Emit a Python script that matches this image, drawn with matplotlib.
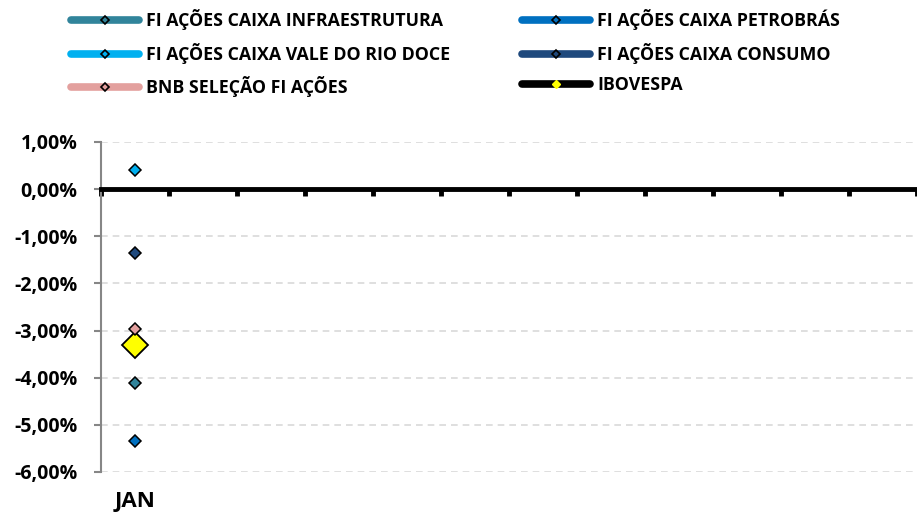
import matplotlib.pyplot as plt
import numpy as np
from matplotlib.lines import Line2D
from matplotlib.ticker import FuncFormatter

plt.rcParams['font.family'] = ['Open Sans', 'DejaVu Sans']
plt.rcParams['font.weight'] = 'bold'

### data ######################################################################
months = ['JAN', '', '', '', '', '', '', '', '', '', '', '']

series_names = ['FI AÇÕES CAIXA INFRAESTRUTURA', 'FI AÇÕES CAIXA PETROBRÁS',
                'FI AÇÕES CAIXA VALE DO RIO DOCE', 'FI AÇÕES CAIXA CONSUMO',
                'BNB SELEÇÃO FI AÇÕES', 'IBOVESPA']
infra = [-4.11]
petro = [-5.34]
vale = [0.40]
consumo = [-1.36]
bnb = [-2.97]
ibov = [-3.31]

series_values = [infra, petro, vale, consumo, bnb, ibov]
colors = ['#31849B', '#0070C0', '#00B0F0', '#1F497D', '#E3A09E', '#000000']

### plot ######################################################################
fig = plt.figure(figsize=(9.17, 5.16), dpi=100)
ax = fig.add_axes([101/917, 44/516, 816/917, 330/516])

x = np.arange(len(months))
for name, vals, c in zip(series_names, series_values, colors):
    if name == 'IBOVESPA':
        ax.plot(x[:len(vals)], vals, color=c, lw=5, marker='D', ms=13,
                mfc='#FFFF00', mec='black', mew=1.3, zorder=4)
    else:
        ax.plot(x[:len(vals)], vals, color=c, lw=5, marker='D', ms=6.5,
                mfc=c, mec='black', mew=1.1, zorder=5)

ax.set_xlim(-0.5, len(months) - 0.5)
ax.set_ylim(-6, 1)
ax.set_yticks(np.arange(-6, 1.5, 1))
ax.yaxis.set_major_formatter(FuncFormatter(lambda v, p: ('%.2f%%' % v).replace('.', ',')))
ax.tick_params(axis='y', labelsize=14, length=5, width=1.5, color='#868686', pad=12)

for v in np.arange(-6, 1.5, 1):
    if v != 0:
        ax.axhline(v, color='#D9D9D9', lw=1.2, ls=(0, (4, 3)), zorder=1)

ax.spines['top'].set_visible(False)
ax.spines['right'].set_visible(False)
ax.spines['left'].set_color('#868686')
ax.spines['left'].set_linewidth(1.5)
ax.spines['bottom'].set_position(('data', 0))
ax.spines['bottom'].set_linewidth(3.5)
ax.spines['bottom'].set_color('black')
ax.spines['bottom'].set_zorder(3)

ax.set_xticks(np.arange(-0.5, len(months), 1))
ax.set_xticklabels([])
ax.tick_params(axis='x', direction='out', length=5, width=3.5, color='black')

for i, m in enumerate(months):
    ax.text(i, -6.62, m, ha='center', va='center', fontsize=16, fontweight='bold',
            clip_on=False)

### legend ####################################################################
handles = []
for name, c in zip(series_names, colors):
    if name == 'IBOVESPA':
        h = Line2D([], [], color=c, lw=5.5, marker='D', ms=4.5, mfc='#FFFF00',
                   mec='#FFFF00', solid_capstyle='round')
    else:
        h = Line2D([], [], color=c, lw=5.5, marker='D', ms=4.5, mfc=c, mec='black',
                   mew=1.2, solid_capstyle='round')
    handles.append(h)
order = [0, 2, 4, 1, 3, 5]
fig.legend([handles[i] for i in order], [series_names[i] for i in order],
           loc='upper left', bbox_to_anchor=(64/917, 1 - 2/516), ncol=2, frameon=False,
           borderaxespad=0, handlelength=3.8, handletextpad=0.4, columnspacing=4.07,
           labelspacing=0.71, prop={'weight': 'bold', 'size': 12.8})

fig.savefig('out.png', dpi=100)
